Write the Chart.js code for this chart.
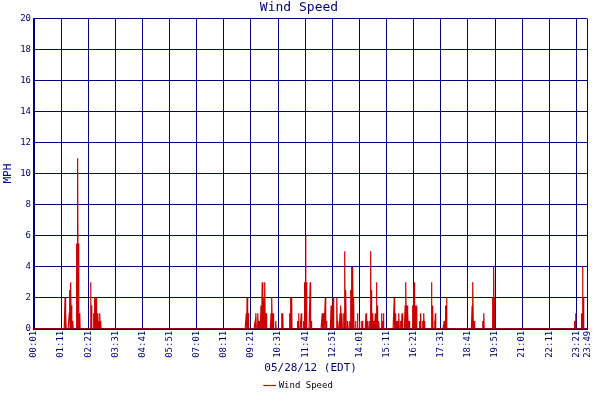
<!DOCTYPE html>
<html>
<head>
<meta charset="utf-8">
<script src="https://cdn.jsdelivr.net/npm/chart.js@4"></script>
<style>
body { margin: 0; background: #fff; }
#wrap { width: 600px; height: 400px; }
</style>
</head>
<body>
<div id="wrap"><canvas id="wind"></canvas></div>
<script>
// readings: minutes after 00:01, speed in MPH (all other minutes are calm)
var times = [80, 82, 91, 92, 95, 97, 100, 110, 113, 115, 118, 146, 148, 154, 157, 160, 162, 165, 167, 170, 172,
  548, 550, 553, 571, 573, 578, 581, 586, 589, 591, 594, 596, 599, 612, 614, 617, 624, 640, 642, 660, 662, 665,
  680, 683, 690, 696, 698, 701, 703, 713, 716, 744, 746, 752, 754, 767, 769, 772, 782, 784, 790, 792, 795,
  800, 802, 805, 810, 815, 818, 820, 823, 825, 830, 835, 840, 846, 848, 857, 862, 866, 869, 871, 874, 876,
  879, 881, 884, 886, 890, 897, 899, 902, 930, 932, 937, 942, 947, 950, 958, 960, 963, 965, 968, 978, 981,
  985, 987, 996, 998, 1003, 1006, 1008, 1026, 1029, 1034, 1036, 1059, 1062, 1065, 1131, 1133, 1136, 1159, 1161,
  1184, 1187, 1189, 1395, 1398, 1413, 1416, 1418];
var speeds = [2, 1, 1, 2.5, 3, 1.5, 0.5, 5.5, 11, 5.5, 1, 3, 1.5, 1, 2, 2, 1, 1, 0.5, 1, 0.5,
  1, 2, 1, 0.5, 1, 1, 0.5, 1.5, 3, 2, 2, 3, 1, 1, 2, 1, 0.5, 1, 1, 1, 2, 2,
  0.5, 1, 1, 0.5, 3, 6, 3, 3, 0.5, 1, 1, 2, 0.5, 1.5, 1, 2, 2, 0.5, 1, 1.5, 1,
  1, 5, 2.5, 0.5, 0.5, 2.5, 4, 4, 2, 0.5, 1, 0.5, 0.5, 0.5, 1, 0.5, 0.5, 5, 2.5, 1, 0.5,
  0.5, 1, 3, 1.5, 0.5, 1, 0.5, 1, 2, 1, 0.5, 1, 0.5, 1, 1.5, 3, 1.5, 1, 0.5, 1.5, 3,
  1.5, 1.5, 0.5, 1, 0.5, 1, 0.5, 3, 1.5, 0.5, 1, 0.5, 1.5, 2, 1.5, 3, 0.5, 0.5, 1,
  2, 4, 2, 0.5, 1, 1, 4, 2];
var tickMinutes = [0, 70, 140, 210, 280, 350, 420, 490, 560, 630, 700, 770, 840, 910, 980, 1050, 1120, 1190, 1260, 1330, 1400, 1428];
var tickLabels = ['00:01', '01:11', '02:21', '03:31', '04:41', '05:51', '07:01', '08:11', '09:21', '10:31', '11:41',
  '12:51', '14:01', '15:11', '16:21', '17:31', '18:41', '19:51', '21:01', '22:11', '23:21', '23:49'];

var series = [];
var lookup = {};
for (var i = 0; i < times.length; i++) lookup[times[i]] = speeds[i];
for (var m = 0; m <= 1428; m++) series.push({ x: m, y: lookup[m] || 0 });

var navy = '#00007f';
Chart.defaults.font.family = 'DejaVu Sans Mono';
Chart.defaults.color = navy;

new Chart(document.getElementById('wind').getContext('2d'), {
  type: 'line',
  data: {
    datasets: [{
      label: 'Wind Speed',
      data: series,
      borderColor: '#cc0000',
      borderWidth: 1.2,
      pointRadius: 0,
      tension: 0
    }]
  },
  options: {
    responsive: true,
    maintainAspectRatio: false,
    animation: false,
    layout: { padding: { right: 2, top: 0, left: 0, bottom: 0 } },
    plugins: {
      title: { display: true, text: 'Wind Speed', font: { size: 13, weight: 'normal' }, padding: { top: 0, bottom: 3 } },
      legend: {
        position: 'bottom',
        labels: { usePointStyle: true, pointStyle: 'line', boxWidth: 14, padding: 2, font: { size: 9 }, color: '#000' }
      },
      tooltip: { enabled: false }
    },
    scales: {
      x: {
        type: 'linear',
        min: 0,
        max: 1428,
        afterBuildTicks: function (ax) { ax.ticks = tickMinutes.map(function (v) { return { value: v }; }); },
        ticks: {
          autoSkip: false,
          minRotation: 90,
          maxRotation: 90,
          padding: 2,
          font: { size: 9 },
          callback: function (v) { return tickLabels[tickMinutes.indexOf(v)]; }
        },
        grid: { color: navy, lineWidth: 1, drawTicks: false },
        border: { color: navy, width: 2 },
        title: { display: true, text: '05/28/12 (EDT)', font: { size: 11 }, padding: { top: 2, bottom: 4 } }
      },
      y: {
        min: 0,
        max: 20,
        ticks: { stepSize: 2, font: { size: 9 }, padding: 3 },
        grid: { color: navy, lineWidth: 1, drawTicks: false },
        border: { color: navy, width: 2 },
        title: { display: true, text: 'MPH', font: { size: 11 }, padding: 2 }
      }
    }
  }
});
</script>
</body>
</html>
